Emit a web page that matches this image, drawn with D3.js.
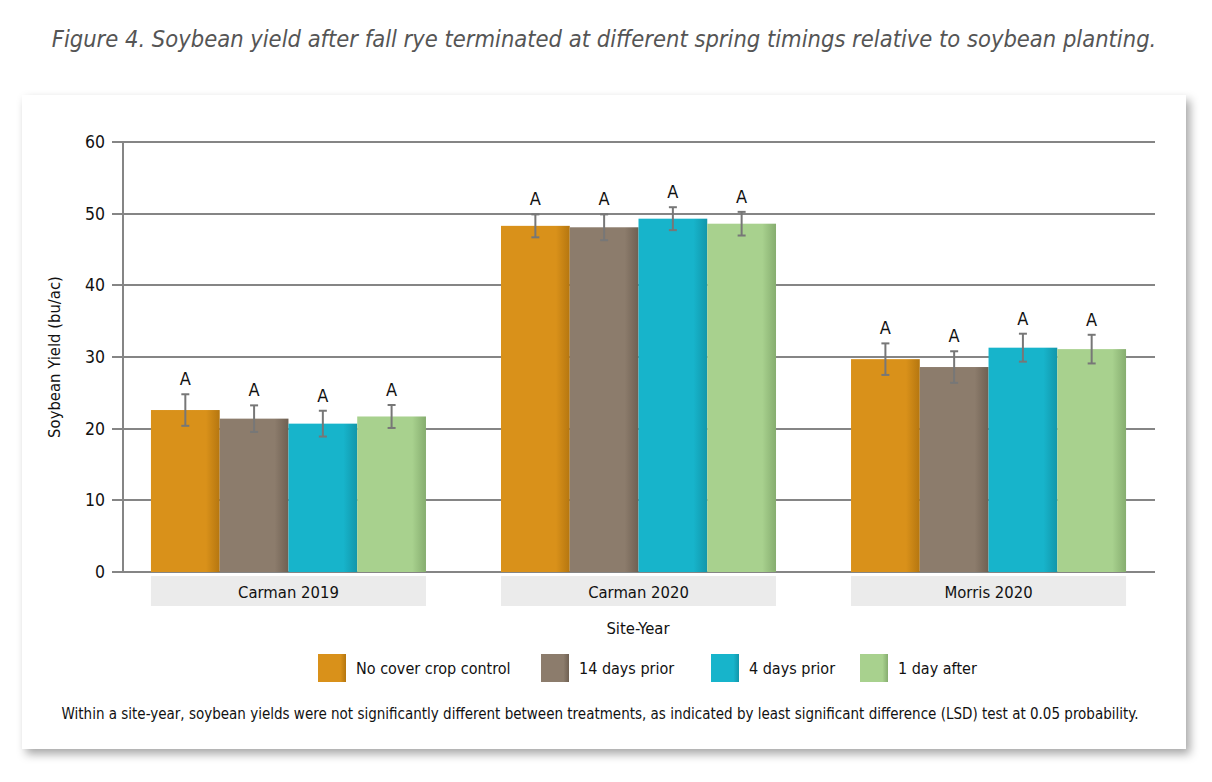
<!DOCTYPE html>
<html>
<head>
<meta charset="utf-8">
<script src="https://cdn.jsdelivr.net/npm/d3@7/dist/d3.min.js"></script>
<style>
  body { margin: 0; background: #fff; }
  text { font-family: "Liberation Sans Narrow", "DejaVu Sans Condensed", "Roboto", sans-serif; fill: #111; }
  text.title { font-style: italic; fill: #555; font-size: 23.5px; text-anchor: middle; }
  text.tick { font-size: 17.5px; text-anchor: end; }
  text.cat { font-size: 16.5px; text-anchor: middle; }
  text.letter { font-size: 18px; text-anchor: middle; }
  text.legend { font-size: 16px; }
  text.note { font-size: 15px; text-anchor: middle; }
  line.grid { stroke: #858585; stroke-width: 2; shape-rendering: crispEdges; }
  line.err { stroke: #777; stroke-width: 2; }
</style>
</head>
<body>
<script>
  var width = 1212, height = 782;

  var sites = ["Carman 2019", "Carman 2020", "Morris 2020"];
  var treatments = ["No cover crop control", "14 days prior", "4 days prior", "1 day after"];
  var colors = ["#d9911a", "#8c7c6c", "#17b4cb", "#a8d18e"];
  var edgeColors = ["#b5760f", "#6f6052", "#1296aa", "#86ad6f"];

  // yield per site, one value per treatment
  var yields = [
    [22.6, 21.4, 20.7, 21.7],
    [48.3, 48.1, 49.3, 48.6],
    [29.7, 28.6, 31.3, 31.1]
  ];
  // half-width of error bars
  var errors = [
    [2.2, 1.85, 1.8, 1.6],
    [1.6, 1.8, 1.6, 1.65],
    [2.2, 2.2, 1.95, 2.0]
  ];
  var letters = [
    ["A", "A", "A", "A"],
    ["A", "A", "A", "A"],
    ["A", "A", "A", "A"]
  ];
  var yTicks = [0, 10, 20, 30, 40, 50, 60];

  var svg = d3.select("body").append("svg")
    .attr("width", width)
    .attr("height", height);

  var defs = svg.append("defs");
  var f = defs.append("filter").attr("id", "shadow")
    .attr("x", "-5%").attr("y", "-5%").attr("width", "110%").attr("height", "115%");
  f.append("feDropShadow").attr("dx", 4).attr("dy", 5).attr("stdDeviation", 5)
    .attr("flood-color", "#000").attr("flood-opacity", 0.35);

  treatments.forEach(function(t, i) {
    var g = defs.append("linearGradient").attr("id", "grad" + i)
      .attr("x1", "0%").attr("x2", "100%").attr("y1", "0%").attr("y2", "0%");
    g.append("stop").attr("offset", "0%").attr("stop-color", colors[i]);
    g.append("stop").attr("offset", "80%").attr("stop-color", colors[i]);
    g.append("stop").attr("offset", "100%").attr("stop-color", edgeColors[i]);
  });

  /* Title */
  svg.append("text")
    .attr("class", "title")
    .attr("x", 604)
    .attr("y", 47)
    .text("Figure 4. Soybean yield after fall rye terminated at different spring timings relative to soybean planting.");

  /* Card */
  svg.append("rect")
    .attr("x", 22).attr("y", 95)
    .attr("width", 1164).attr("height", 654)
    .attr("fill", "#fff")
    .attr("filter", "url(#shadow)");

  var pLeft = 123, pRight = 1155, pTop = 142, pBottom = 572;

  var y = d3.scaleLinear().domain([0, 60]).range([pBottom, pTop]);
  var x0 = d3.scaleBand().domain(sites).range([113.5, 1163.5]).paddingInner(0.2143).paddingOuter(0.107);
  var x1 = d3.scaleBand().domain(treatments).range([0, x0.bandwidth()]);

  /* Grid */
  svg.selectAll("line.grid")
    .data(yTicks)
    .enter()
    .append("line")
    .attr("class", "grid")
    .attr("x1", pLeft - 11)
    .attr("x2", pRight)
    .attr("y1", function(d) { return Math.round(y(d)); })
    .attr("y2", function(d) { return Math.round(y(d)); });

  svg.selectAll("text.tick")
    .data(yTicks)
    .enter()
    .append("text")
    .attr("class", "tick")
    .attr("x", pLeft - 18)
    .attr("y", function(d) { return y(d) + 6; })
    .text(function(d) { return d; });

  /* Category boxes */
  svg.selectAll("rect.catbox")
    .data(sites)
    .enter()
    .append("rect")
    .attr("class", "catbox")
    .attr("x", function(d) { return x0(d); })
    .attr("y", pBottom + 4)
    .attr("width", x0.bandwidth())
    .attr("height", 30)
    .attr("fill", "#ebebeb");

  svg.selectAll("text.cat")
    .data(sites)
    .enter()
    .append("text")
    .attr("class", "cat")
    .attr("x", function(d) { return x0(d) + x0.bandwidth() / 2; })
    .attr("y", pBottom + 26)
    .text(function(d) { return d; });

  /* Bars */
  var groups = svg.selectAll("g.site")
    .data(sites)
    .enter()
    .append("g")
    .attr("class", "site")
    .attr("transform", function(d) { return "translate(" + x0(d) + ",0)"; });

  groups.each(function(site, si) {
    var g = d3.select(this);
    var rows = treatments.map(function(t, ti) {
      return { t: t, ti: ti, v: yields[si][ti], e: errors[si][ti], l: letters[si][ti] };
    });

    g.selectAll("rect.bar")
      .data(rows)
      .enter()
      .append("rect")
      .attr("class", "bar")
      .attr("x", function(d) { return x1(d.t); })
      .attr("y", function(d) { return y(d.v); })
      .attr("width", x1.bandwidth())
      .attr("height", function(d) { return pBottom - y(d.v); })
      .attr("fill", function(d) { return "url(#grad" + d.ti + ")"; });

    var cx = function(d) { return x1(d.t) + x1.bandwidth() / 2; };

    g.selectAll("line.err-v")
      .data(rows).enter().append("line")
      .attr("class", "err")
      .attr("x1", cx).attr("x2", cx)
      .attr("y1", function(d) { return y(d.v + d.e); })
      .attr("y2", function(d) { return y(d.v - d.e); });

    [1, -1].forEach(function(s) {
      g.selectAll("line.cap" + s)
        .data(rows).enter().append("line")
        .attr("class", "err")
        .attr("x1", function(d) { return cx(d) - 4; })
        .attr("x2", function(d) { return cx(d) + 4; })
        .attr("y1", function(d) { return y(d.v + s * d.e); })
        .attr("y2", function(d) { return y(d.v + s * d.e); });
    });

    g.selectAll("text.letter")
      .data(rows).enter().append("text")
      .attr("class", "letter")
      .attr("x", cx)
      .attr("y", function(d) { return y(d.v + d.e) - 9; })
      .text(function(d) { return d.l; });
  });

  /* Y axis line */
  svg.append("line")
    .attr("class", "grid")
    .attr("x1", pLeft).attr("x2", pLeft)
    .attr("y1", pTop).attr("y2", pBottom);

  /* Axis titles */
  svg.append("text")
    .attr("class", "cat")
    .attr("transform", "translate(60," + ((pTop + pBottom) / 2) + ") rotate(-90)")
    .text("Soybean Yield (bu/ac)");

  svg.append("text")
    .attr("class", "cat")
    .attr("x", 638)
    .attr("y", 634)
    .text("Site-Year");

  /* Legend */
  var legendX = [318, 541, 711, 860];
  var leg = svg.selectAll("g.legend")
    .data(treatments)
    .enter()
    .append("g")
    .attr("class", "legend")
    .attr("transform", function(d, i) { return "translate(" + legendX[i] + ",654)"; });

  leg.append("rect")
    .attr("width", 28).attr("height", 28)
    .attr("fill", function(d, i) { return "url(#grad" + i + ")"; });

  leg.append("text")
    .attr("class", "legend")
    .attr("x", 38)
    .attr("y", 20)
    .text(function(d) { return d; });

  /* Footnote */
  svg.append("text")
    .attr("class", "note")
    .attr("x", 600)
    .attr("y", 719)
    .text("Within a site-year, soybean yields were not significantly different between treatments, as indicated by least significant difference (LSD) test at 0.05 probability.");
</script>
</body>
</html>
